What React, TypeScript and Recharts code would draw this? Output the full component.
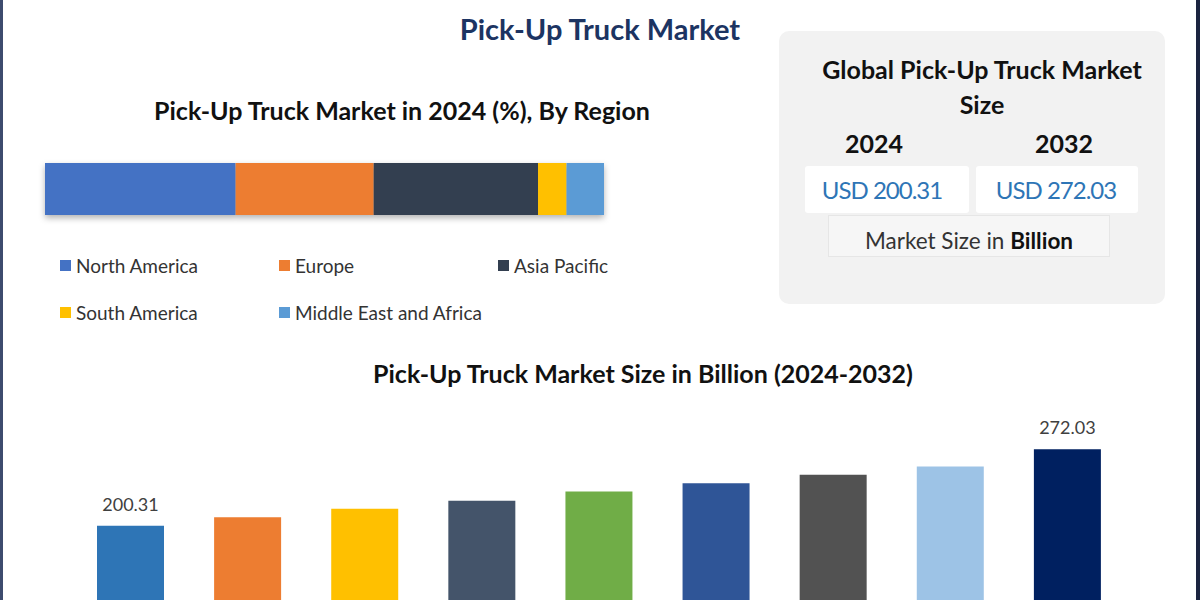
import React from "react";
import { Bar, BarChart, Cell, LabelList, XAxis, YAxis } from "recharts";

const YEARS = ["2024", "2025", "2026", "2027", "2028", "2029", "2030", "2031", "2032"];
const MARKET_SIZE = [200.31, 208.4, 216.2, 223.7, 232.4, 240.2, 248.0, 255.8, 272.03];
const BAR_LABELS = ["200.31", "", "", "", "", "", "", "", "272.03"];
const BAR_COLORS = ["#2e75b6", "#ed7d31", "#ffc000", "#44546a", "#70ad47", "#2f5597", "#525252", "#9dc3e6", "#002060"];

const REGIONS = ["North America", "Europe", "Asia Pacific", "South America", "Middle East and Africa"];
const REGION_SHARE = [34.1, 24.7, 29.4, 5.1, 6.7];
const REGION_COLORS = ["#4472c4", "#ed7d31", "#333f50", "#ffc000", "#5b9bd5"];

const FONT = "Lato, 'Open Sans', sans-serif";

function Txt({ cx, cy, size, weight = 400, color = "#000", w = 700, children, style }: any) {
  const h = Math.round(size * 1.2);
  return (
    <div
      style={{
        position: "absolute",
        left: cx - w / 2,
        top: cy - h / 2,
        width: w,
        height: h,
        lineHeight: `${h}px`,
        fontSize: size,
        fontWeight: weight,
        color,
        textAlign: "center",
        whiteSpace: "nowrap",
        ...style,
      }}
    >
      {children}
    </div>
  );
}

const regionRow = [
  REGIONS.reduce((row: any, r, i) => ({ ...row, [r]: REGION_SHARE[i] }), { name: "2024" }),
];
const sizeRows = YEARS.map((y, i) => ({ year: y, value: MARKET_SIZE[i], label: BAR_LABELS[i] }));

export default function App() {
  return (
    <div
      style={{
        position: "fixed",
        left: 0,
        top: 0,
        width: 1200,
        height: 600,
        overflow: "hidden",
        background: "#fff",
        fontFamily: FONT,
      }}
    >
      <div style={{ position: "absolute", left: 0, top: 0, width: 3, height: 600, background: "#3d4b6e" }} />
      <div style={{ position: "absolute", left: 1196, top: 0, width: 4, height: 600, background: "#1b2440" }} />

      <Txt cx={600} cy={28} size={29} weight={700} color="#1c3462">Pick-Up Truck Market</Txt>

      {/* region share */}
      <Txt cx={402} cy={110} size={25} weight={700} color="#111">Pick-Up Truck Market in 2024 (%), By Region</Txt>
      <div style={{ position: "absolute", left: 45, top: 163, filter: "drop-shadow(0 3px 3px rgba(0,0,0,0.3))" }}>
        <BarChart width={559} height={52} data={regionRow} layout="vertical" margin={{ top: 0, right: 0, bottom: 0, left: 0 }} barCategoryGap={0}>
          <XAxis type="number" domain={[0, 100]} hide />
          <YAxis type="category" dataKey="name" hide />
          {REGIONS.map((r, i) => (
            <Bar key={r} dataKey={r} stackId="a" fill={REGION_COLORS[i]} isAnimationActive={false} />
          ))}
        </BarChart>
      </div>
      {REGIONS.map((r, i) => {
        const col = i % 3;
        const row = Math.floor(i / 3);
        return (
          <div
            key={r}
            style={{
              position: "absolute",
              left: 60 + col * 219,
              top: 265 + row * 47 - 12,
              height: 24,
              display: "flex",
              alignItems: "center",
              fontSize: 19,
              color: "#333",
              whiteSpace: "nowrap",
            }}
          >
            <span style={{ display: "inline-block", width: 11, height: 11, background: REGION_COLORS[i], marginRight: 5 }} />
            {r}
          </div>
        );
      })}

      {/* market size card */}
      <div style={{ position: "absolute", left: 779, top: 31, width: 386, height: 273, background: "#f2f2f2", borderRadius: 10 }} />
      <Txt cx={982} cy={69} size={25} weight={700} color="#111" w={384}>Global Pick-Up Truck Market</Txt>
      <Txt cx={982} cy={104} size={25} weight={700} color="#111" w={384}>Size</Txt>
      <Txt cx={874} cy={143} size={25} weight={700} color="#111" w={160}>2024</Txt>
      <Txt cx={1064} cy={143} size={25} weight={700} color="#111" w={160}>2032</Txt>
      <div style={{ position: "absolute", left: 805, top: 166, width: 164, height: 47, background: "#fff", borderRadius: 3 }} />
      <div style={{ position: "absolute", left: 976, top: 166, width: 162, height: 47, background: "#fff", borderRadius: 3 }} />
      <Txt cx={882} cy={189} size={24} color="#2e75b6" w={164} style={{ letterSpacing: -1 }}>USD 200.31</Txt>
      <Txt cx={1056} cy={189} size={24} color="#2e75b6" w={162} style={{ letterSpacing: -1 }}>USD 272.03</Txt>
      <div style={{ position: "absolute", left: 828, top: 215, width: 282, height: 42, background: "#f6f6f6", border: "1px solid #e6e6e6", boxSizing: "border-box" }} />
      <Txt cx={969} cy={240} size={22.5} color="#333" w={282}>
        Market Size in <b style={{ color: "#111" }}>Billion</b>
      </Txt>

      {/* market size bars */}
      <Txt cx={643} cy={373} size={25} weight={700} color="#111">Pick-Up Truck Market Size in Billion (2024-2032)</Txt>
      <div style={{ position: "absolute", left: 0, top: 400 }}>
        <BarChart width={1200} height={340} data={sizeRows} margin={{ top: 0, right: 74, bottom: 0, left: 72 }}>
          <XAxis dataKey="year" hide />
          <YAxis type="number" domain={[0, 318]} hide />
          <Bar dataKey="value" barSize={67} isAnimationActive={false}>
            {sizeRows.map((d, i) => (
              <Cell key={d.year} fill={BAR_COLORS[i]} />
            ))}
            <LabelList dataKey="label" position="top" offset={15} fill="#404040" fontSize={18} fontFamily={FONT} />
          </Bar>
        </BarChart>
      </div>
    </div>
  );
}
